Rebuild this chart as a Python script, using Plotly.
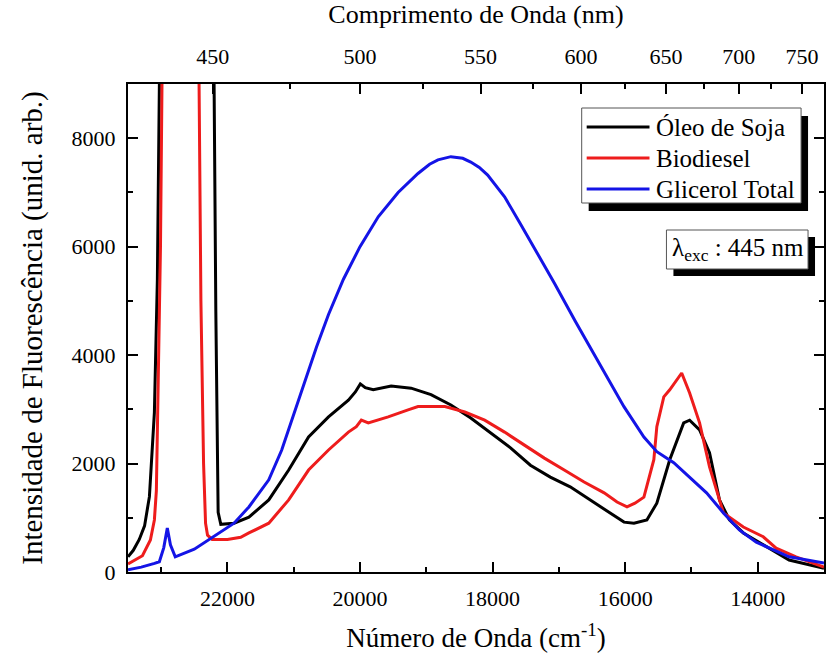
import plotly.graph_objects as go

# Emission spectra (wavenumber in cm^-1, intensity in arb. units)
oleo_wn = [23500, 23420, 23330, 23250, 23177, 23102, 23057, 23025, 22600, 22205,
           22175, 22140, 22100, 21900, 21676, 21376, 21076, 20776, 20475, 20175,
           20070, 19995, 19920, 19800, 19530, 19229, 18929, 18629, 18329, 18029,
           17729, 17429, 17129, 16829, 16527, 16227, 16017, 15867, 15672, 15522,
           15327, 15117, 15027, 14877, 14727, 14577, 14427, 14217, 13917, 13527,
           13000]
oleo_int = [280, 400, 600, 850, 1390, 2940, 5390, 9200, 20000, 9600,
            4800, 1100, 880, 900, 1010, 1330, 1880, 2490, 2860, 3170,
            3320, 3470, 3400, 3360, 3430, 3390, 3270, 3080, 2840, 2560,
            2290, 1970, 1750, 1570, 1330, 1090, 920, 900, 960, 1270,
            2070, 2750, 2800, 2620, 2200, 1330, 960, 720, 500, 220,
            70]

biodiesel_wn = [23500, 23400, 23282, 23162, 23102, 23072, 23040, 23010, 22985, 22700,
                22430, 22400, 22360, 22330, 22300, 22230, 22000, 21800, 21676, 21376,
                21076, 20776, 20475, 20175, 20055, 19980, 19875, 19575, 19275, 19125,
                18719, 18419, 18119, 17819, 17519, 17219, 16919, 16619, 16317, 16122,
                15972, 15852, 15717, 15567, 15522, 15417, 15327, 15147, 15027, 14877,
                14727, 14517, 14217, 13917, 13722, 13422, 13000]
biodiesel_int = [150, 220, 300, 590, 960, 1500, 3500, 6000, 9300, 20000,
                 9300, 5000, 2000, 900, 680, 600, 600, 640, 720, 900,
                 1330, 1880, 2250, 2580, 2680, 2800, 2750, 2860, 2990, 3050,
                 3050, 2950, 2800, 2580, 2340, 2100, 1880, 1660, 1460, 1290,
                 1200, 1270, 1380, 2070, 2680, 3230, 3360, 3670, 3300, 2750,
                 1940, 1090, 830, 650, 440, 280, 90]

glicerol_wn = [23500, 23300, 23100, 23027, 22960, 22907, 22860, 22787, 22500, 22285,
               21900, 21676, 21376, 21181, 20970, 20806, 20656, 20475, 20250, 20000,
               19725, 19425, 19125, 18950, 18824, 18629, 18450, 18329, 18200, 18074,
               17819, 17579, 17324, 17069, 16750, 16423, 16018, 15717, 15522, 15267,
               15027, 14772, 14517, 14277, 14022, 13767, 13527, 13000]
glicerol_int = [40, 90, 160, 190, 450, 810, 500, 280, 420, 590,
                900, 1200, 1700, 2250, 3000, 3600, 4150, 4750, 5400, 6000,
                6550, 7000, 7350, 7520, 7600, 7660, 7630, 7560, 7460, 7320,
                6920, 6420, 5880, 5330, 4620, 3910, 3050, 2490, 2220, 2015,
                1750, 1460, 1090, 775, 550, 405, 280, 165]

series_names = ["Óleo de Soja", "Biodiesel", "Glicerol Total"]
series_colors = ["#000000", "#ee1c1c", "#1414e6"]

# Axis ticks
wn_major = [22000, 20000, 18000, 16000, 14000]
wl_major = [450, 500, 550, 600, 650, 700, 750]
wl_minor = [475, 525, 575, 625, 675, 725]
int_major = [0, 2000, 4000, 6000, 8000]

FONT = "Liberation Serif, Times New Roman, serif"
W, H = 828, 659
ML, MR, MT, MB = 128, 2, 84, 87


def px(x):
    return (x - ML) / (W - ML - MR)


def py(y):
    return (H - MB - y) / (H - MT - MB)


fig = go.Figure()
for wn, inten, name, color in zip(
        [oleo_wn, biodiesel_wn, glicerol_wn],
        [oleo_int, biodiesel_int, glicerol_int],
        series_names, series_colors):
    fig.add_trace(go.Scatter(x=wn, y=inten, mode="lines", name=name,
                             line=dict(color=color, width=3), showlegend=False))

# invisible trace carrying the wavelength axis
fig.add_trace(go.Scatter(x=[23500, 13000], y=[None, None], xaxis="x2",
                         mode="lines", showlegend=False, hoverinfo="skip"))

axis_common = dict(showgrid=False, zeroline=False, showline=True,
                   linecolor="black", linewidth=2, ticks="inside",
                   tickcolor="black", tickwidth=2, ticklen=10,
                   tickfont=dict(family=FONT, size=22, color="black"))

fig.update_layout(
    width=W, height=H,
    font=dict(family=FONT, color="black"),
    margin=dict(l=ML, r=MR, t=MT, b=MB),
    paper_bgcolor="white", plot_bgcolor="white",
    xaxis=dict(range=[23500, 13000], tickmode="array", tickvals=wn_major,
               ticktext=[str(v) for v in wn_major],
               minor=dict(dtick=1000, tick0=0, ticks="inside", ticklen=5,
                          tickwidth=2, tickcolor="black"),
               ticklabelstandoff=6,
               title=dict(text="Número de Onda (cm<sup>-1</sup>)",
                          font=dict(family=FONT, size=27, color="black"),
                          standoff=18),
               **axis_common),
    xaxis2=dict(overlaying="x", side="top", anchor="y", range=[23500, 13000],
                tickmode="array", tickvals=[1e7 / w for w in wl_major],
                ticktext=[str(w) for w in wl_major],
                minor=dict(tickmode="array", tickvals=[1e7 / w for w in wl_minor],
                           ticks="inside", ticklen=5, tickwidth=2, tickcolor="black"),
                ticklabelstandoff=9,
                title=dict(text="Comprimento de Onda (nm)",
                           font=dict(family=FONT, size=26, color="black"),
                           standoff=16),
                **axis_common),
    yaxis=dict(range=[0, 9000], tickmode="array", tickvals=int_major,
               ticktext=[str(v) for v in int_major], mirror="ticks",
               minor=dict(dtick=1000, tick0=0, ticks="inside", ticklen=5,
                          tickwidth=2, tickcolor="black"),
               ticklabelstandoff=6,
               title=dict(text="Intensidade de Fluorescência (unid. arb.)",
                          font=dict(family=FONT, size=29, color="black"),
                          standoff=20),
               **axis_common),
)

shapes = []
annotations = []

# legend box with drop shadow
shapes.append(dict(type="rect", xref="paper", yref="paper", layer="above",
                   x0=px(590), x1=px(810), y0=py(116), y1=py(211),
                   fillcolor="black", line=dict(width=0)))
shapes.append(dict(type="rect", xref="paper", yref="paper", layer="above",
                   x0=px(583), x1=px(803), y0=py(108), y1=py(203),
                   fillcolor="white", line=dict(color="#555555", width=1)))
for i, (name, color) in enumerate(zip(series_names, series_colors)):
    yrow = 127 + i * 31
    shapes.append(dict(type="line", xref="paper", yref="paper", layer="above",
                       x0=px(588), x1=px(651), y0=py(yrow), y1=py(yrow),
                       line=dict(color=color, width=3)))
    annotations.append(dict(xref="paper", yref="paper", x=px(656), y=py(yrow),
                            xanchor="left", yanchor="middle", showarrow=False,
                            text=name, font=dict(family=FONT, size=25, color="black")))

# excitation wavelength box with drop shadow
shapes.append(dict(type="rect", xref="paper", yref="paper", layer="above",
                   x0=px(675), x1=px(817), y0=py(237), y1=py(276),
                   fillcolor="black", line=dict(width=0)))
shapes.append(dict(type="rect", xref="paper", yref="paper", layer="above",
                   x0=px(668), x1=px(810), y0=py(230), y1=py(269),
                   fillcolor="white", line=dict(color="#555555", width=1)))
annotations.append(dict(xref="paper", yref="paper", x=px(672), y=py(249),
                        xanchor="left", yanchor="middle", showarrow=False,
                        text="λ<sub>exc</sub> : 445 nm",
                        font=dict(family=FONT, size=25, color="black")))

fig.update_layout(shapes=shapes, annotations=annotations)
fig.write_html("out.html")
